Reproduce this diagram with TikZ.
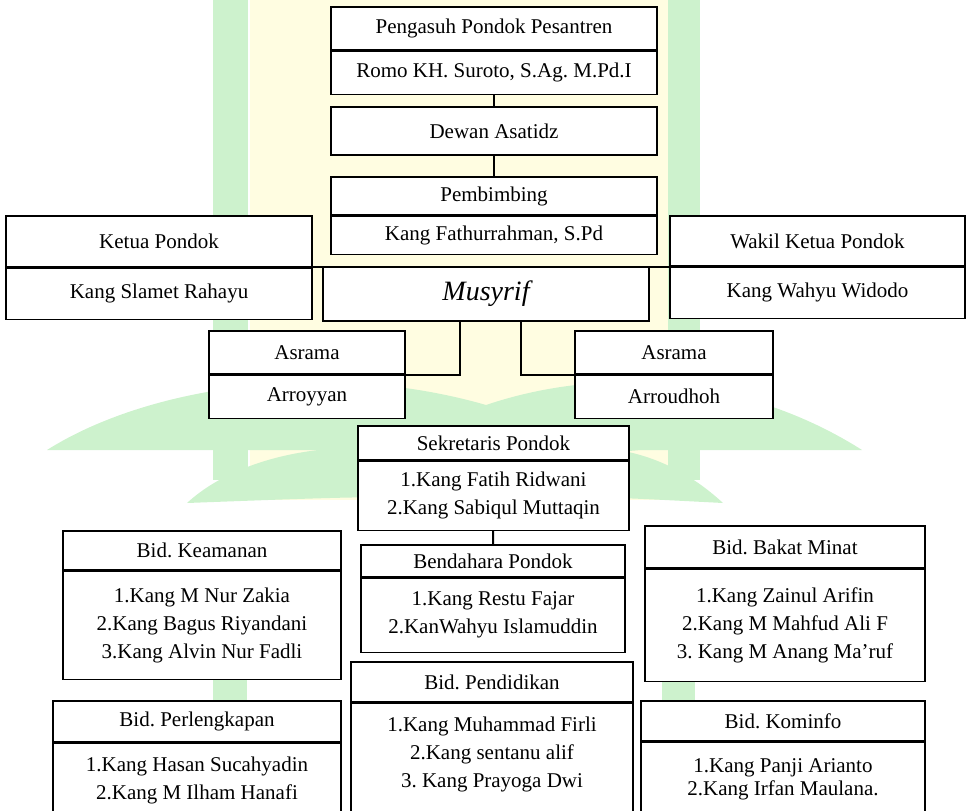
\documentclass[tikz,border=0pt]{standalone}
\usepackage{fontspec}
\setmainfont{Liberation Serif}
\usetikzlibrary{positioning, calc}
\definecolor{wmgreen}{RGB}{205,242,205}
\definecolor{wmyellow}{RGB}{255,253,225}
\frenchspacing

\begin{document}
\begin{tikzpicture}[x=0.5bp, y=-0.5bp,
    box/.style={draw, fill=white, line width=0.6bp, inner sep=0pt, align=center,
        font=\fontsize{10.5bp}{14bp}\selectfont},
    link/.style={line width=1bp}]
    \useasboundingbox (0,0) rectangle (970,811);

    \fill[wmyellow] (250,-10) rectangle (668,500);
    \fill[wmgreen] (213,-10) rectangle (248,480);
    \fill[wmgreen] (668,-10) rectangle (700,480);
    \fill[wmgreen] (47,450) .. controls (150,385) and (330,360) .. (486,405) -- (486,445)
        .. controls (420,440) and (380,455) .. (333,450) -- cycle;
    \fill[wmgreen] (862,450) .. controls (760,385) and (620,360) .. (486,405) -- (486,445)
        .. controls (550,440) and (600,455) .. (640,450) -- cycle;
    \fill[wmgreen] (187,503) .. controls (250,445) and (380,430) .. (486,470) -- (486,505)
        .. controls (400,495) .. (187,503) -- cycle;
    \fill[wmgreen] (723,503) .. controls (660,445) and (580,430) .. (486,470) -- (486,505)
        .. controls (570,495) .. (723,503) -- cycle;
    \fill[wmgreen] (213,560) rectangle (247,811);
    \fill[wmgreen] (662,560) rectangle (695,700);

    \node[box, minimum width=163bp, minimum height=21.5bp] (asuhH) at (494,28.5) {Pengasuh Pondok Pesantren};
    \node[box, minimum width=163bp, minimum height=21.5bp, below=0pt of asuhH] (asuhB) {Romo KH. Suroto, S.Ag. M.Pd.I};
    \node[box, minimum width=163bp, minimum height=24bp] (dewan) at (494,131) {Dewan Asatidz};
    \node[box, minimum width=163bp, minimum height=19bp] (bimH) at (494,196) {Pembimbing};
    \node[box, minimum width=163bp, minimum height=19bp, below=0pt of bimH] (bimB) {Kang Fathurrahman, S.Pd};

    \node[box, minimum width=153bp, minimum height=25.5bp] (ketuaH) at (159,241.5) {Ketua Pondok};
    \node[box, minimum width=153bp, minimum height=25.5bp, below=0pt of ketuaH] (ketuaB) {Kang Slamet Rahayu};
    \node[box, minimum width=147.5bp, minimum height=25bp] (wakilH) at (817.5,241) {Wakil Ketua Pondok};
    \node[box, minimum width=147.5bp, minimum height=25.5bp, below=0pt of wakilH] (wakilB) {Kang Wahyu Widodo};
    \node[box, minimum width=163bp, minimum height=27bp, font=\fontsize{14bp}{16bp}\selectfont\itshape] (musyrif) at (486,294) {Musyrif};

    \node[box, minimum width=98bp, minimum height=21.5bp] (royH) at (307,352.5) {Asrama};
    \node[box, minimum width=98bp, minimum height=21.5bp, below=0pt of royH] (royB) {Arroyyan};
    \node[box, minimum width=99bp, minimum height=21.5bp] (roudH) at (674,352.5) {Asrama};
    \node[box, minimum width=99bp, minimum height=21.5bp, below=0pt of roudH] (roudB) {Arroudhoh};

    \node[box, minimum width=135.5bp, minimum height=17bp] (sekH) at (493.5,443) {Sekretaris Pondok};
    \node[box, minimum width=135.5bp, minimum height=34.5bp, below=0pt of sekH] (sekB) {1.Kang Fatih Ridwani\\2.Kang Sabiqul Muttaqin};
    \node[box, minimum width=132bp, minimum height=16bp] (bendH) at (493,561) {Bendahara Pondok};
    \node[box, minimum width=132bp, minimum height=37bp, below=0pt of bendH] (bendB) {1.Kang Restu Fajar\\2.KanWahyu Islamuddin};

    \node[box, minimum width=139bp, minimum height=19.5bp] (amanH) at (202,550.5) {Bid. Keamanan};
    \node[box, minimum width=139bp, minimum height=54bp, below=0pt of amanH] (amanB) {1.Kang M Nur Zakia\\2.Kang Bagus Riyandani\\3.Kang Alvin Nur Fadli};
    \node[box, minimum width=140bp, minimum height=21bp] (bakatH) at (785,547) {Bid. Bakat Minat};
    \node[box, minimum width=140bp, minimum height=56bp, below=0pt of bakatH] (bakatB) {1.Kang Zainul Arifin\\2.Kang M Mahfud Ali F\\3. Kang M Anang Ma’ruf};

    \node[box, minimum width=141bp, minimum height=20bp] (didikH) at (492,682) {Bid. Pendidikan};
    \node[box, minimum width=141bp, minimum height=67bp, below=0pt of didikH] (didikB) {1.Kang Muhammad Firli\\2.Kang sentanu alif\\3. Kang Prayoga Dwi\\ \strut};
    \node[box, minimum width=144bp, minimum height=20.5bp] (lengkapH) at (197,721.5) {Bid. Perlengkapan};
    \node[box, minimum width=144bp, minimum height=37bp, below=0pt of lengkapH] (lengkapB) {1.Kang Hasan Sucahyadin\\2.Kang M Ilham Hanafi};
    \node[box, minimum width=142bp, minimum height=20bp] (infoH) at (783,721) {Bid. Kominfo};
    \node[box, minimum width=142bp, minimum height=37.5bp, below=0pt of infoH,
        font=\fontsize{10.5bp}{11.5bp}\selectfont] (infoB) {1.Kang Panji Arianto\\2.Kang Irfan Maulana.};

    \coordinate (barL) at (244,267);
    \coordinate (barR) at (730,267);

    \draw[link] (asuhB) -- (dewan);
    \draw[link] (dewan) -- (bimH);
    \draw[link] (barL) -- (barR);
    \draw[link] ($(musyrif.south)+(-26,0)$) |- (royH.south east);
    \draw[link] ($(musyrif.south)+(35,0)$) |- (roudH.south west);
    \draw[link] (sekB) -- (bendH);
\end{tikzpicture}
\end{document}
